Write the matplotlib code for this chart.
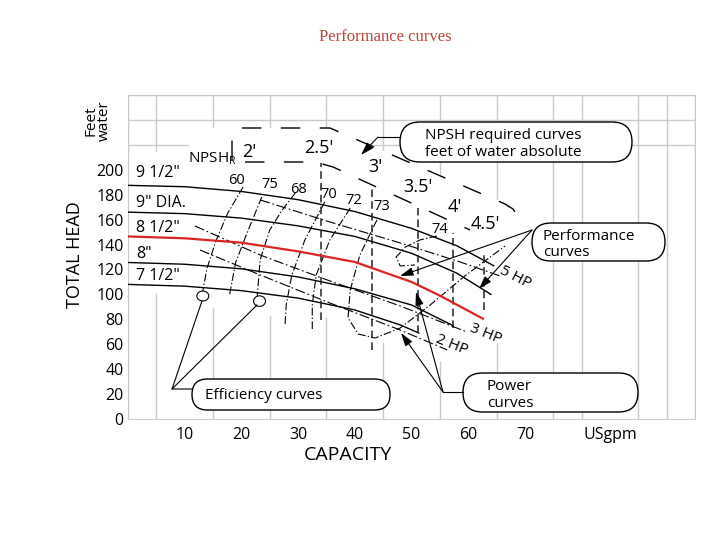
import numpy as np
import matplotlib.pyplot as plt
from matplotlib.patches import Polygon, Ellipse, FancyBboxPatch

plt.rcParams['font.family'] = ['Open Sans', 'DejaVu Sans']

" DATA "
# capacity [USgpm] vs total head [ft]
q_95 = [0, 10, 20, 30, 40, 50, 58, 64.5]
h_95 = [187.5, 186.4, 182.6, 176, 166.5, 153, 139, 123]
q_90 = [0, 10, 20, 30, 40, 50, 58, 64]
h_90 = [166, 164.8, 161.2, 155, 146.5, 133, 117, 100]
q_85 = [0, 10, 20, 30, 40, 50, 55, 62.6]
h_85 = [146.5, 145, 141.5, 134.5, 126, 110, 99, 80.5]
q_80 = [0, 10, 20, 30, 40, 50, 57.3]
h_80 = [125.6, 124.2, 120.5, 114, 104.5, 91.5, 75]
q_75 = [0, 10, 20, 30, 40, 48, 51.3]
h_75 = [108, 106.6, 103, 97, 87.5, 75.5, 69]
imp_labels = ['9 1/2"', '9" DIA.', '8 1/2"', '8"', '7 1/2"']
imp_label_h = [194.2, 170.1, 150.1, 129.2, 111.6]

# efficiency curves [%]
eff_labels = ['60', '75', '68', '70', '72', '73', '74']
eff_label_q = [19.2, 25.0, 30.0, 35.4, 39.9, 44.8, 55.0]
eff_label_h = [188.6, 185.4, 181.4, 177.4, 172.6, 167.8, 149.3]
e60_q = [20.3, 17.6, 15.5, 13.9, 13.2]
e60_h = [186.2, 165.3, 142.8, 120.4, 102.7]
e75_q = [23.6, 21.2, 19.0, 17.9]
e75_h = [178.1, 151.6, 125.9, 99.4]
e68_q = [29.5, 27.2, 25.0, 23.3, 22.8]
e68_h = [181.3, 167.7, 151.7, 127.6, 98.6]
e70_q = [34.7, 31.2, 28.9, 27.9, 27.7]
e70_h = [174.2, 143.7, 115.6, 91.5, 75.4]
e72_q = [39.2, 35.6, 33.2, 32.5, 32.5]
e72_h = [169.3, 143.7, 115.6, 91.5, 71.4]
e73_q = [43.9, 40.9, 39.2, 38.8, 40.6, 43.6, 48.0, 53.3, 59.4, 66.5]
e73_h = [159.7, 131.6, 103.5, 81.1, 68.2, 65.0, 73.0, 91.5, 114.8, 138.8]
e74_q = [54.5, 51.5, 48.9, 47.3, 48.0, 50.6]
e74_h = [146.9, 143.7, 138.0, 130.0, 122.8, 123.6]

# NPSH required [ft]
npsh_labels = ["2'", "2.5'", "3'", "3.5'", "4'", "4.5'"]
npsh_label_q = [21.3, 33.7, 43.7, 51.1, 57.7, 63.0]
npsh_label_h = [210.4, 213.6, 198.4, 182.3, 166.3, 152.6]
npsh_q = [34.0, 43.0, 51.1, 57.3, 62.8]
npsh_top = [205.5, 186.2, 169.3, 149.3, 134.0]
npsh_bot = [79.5, 55.4, 69.0, 73.0, 87.5]

# power curves [HP]
p2_q = [12.7, 23.3, 35.6, 48.0, 56.3]
p2_h = [135.6, 115.6, 93.1, 71.4, 55.4]
p3_q = [11.8, 23.3, 35.6, 48.0, 59.8]
p3_h = [154.9, 131.6, 110.8, 90.7, 69.8]
p5_q = [23.3, 35.6, 48.0, 58.6, 65.6]
p5_h = [175.8, 158.1, 141.3, 126.0, 114.8]

x_ticks = [10, 20, 30, 40, 50, 60, 70, 85]
x_ticklabels = ['10', '20', '30', '40', '50', '60', '70', 'USgpm']
y_ticks = list(range(0, 201, 20))


def to_data(x, y):
    # figure pixel -> data coords of the main axes
    return (x - 128) / 5.67, (419 - y) / 1.246


fig = plt.figure(figsize=(7.2, 5.4), dpi=100)
ax = fig.add_axes([128 / 720, 121 / 540, 567 / 720, 324 / 540])
ax.set_xlim(0, 100)
ax.set_ylim(0, 260)

ax.set_xticks(x_ticks)
ax.set_xticklabels(x_ticklabels, fontsize=11.5)
ax.set_yticks(y_ticks)
ax.set_yticklabels([str(v) for v in y_ticks], fontsize=11.5)
ax.set_xticks(np.arange(0, 101, 5), minor=True)
ax.set_yticks(np.arange(0, 261, 20), minor=True)
ax.tick_params(which='both', length=0)
ax.tick_params(axis='x', pad=6)
ax.tick_params(axis='y', pad=3)
ax.grid(which='minor', color='#c9c9c9', lw=1.0)
ax.set_axisbelow(True)
for s in ax.spines.values():
    s.set_color('#c9c9c9')

# white area behind the curves hides the grid
mask_px = [(128, 152), (188, 152), (190, 128), (330, 128), (505, 203), (522, 214), (537, 240),
           (537, 265), (518, 285), (518, 330), (500, 343), (460, 350), (440, 362), (388, 362),
           (384, 343), (345, 343), (343, 318), (250, 316), (186, 302), (150, 292), (128, 292)]
ax.add_patch(Polygon([to_data(*p) for p in mask_px], closed=True, fc='white', ec='none', zorder=1))

" CURVES "
for q, h in [(q_95, h_95), (q_90, h_90), (q_80, h_80), (q_75, h_75)]:
    ax.plot(q, h, color='black', lw=1.0, zorder=3)
ax.plot(q_85, h_85, color='#dc2423', lw=1.6, zorder=4)
for lab, hh in zip(imp_labels, imp_label_h):
    ax.text(1.4, hh, lab, fontsize=11.5, ha='left', va='baseline', zorder=5)

eff_ls = (0, (7, 2, 1.2, 2))
for q, h in [(e60_q, e60_h), (e75_q, e75_h), (e68_q, e68_h), (e70_q, e70_h),
             (e72_q, e72_h), (e73_q, e73_h), (e74_q, e74_h)]:
    ax.plot(q, h, color='black', lw=0.8, ls=eff_ls, zorder=3)
for lab, q, h in zip(eff_labels, eff_label_q, eff_label_h):
    ax.text(q, h, lab, fontsize=10.5, ha='center', va='baseline', zorder=5)
ax.add_patch(Ellipse((e60_q[-1], e60_h[-1] - 4), 2.1, 8, fc='white', ec='black', lw=0.8, zorder=4))
ax.add_patch(Ellipse((e68_q[-1] + 0.4, e68_h[-1] - 4), 2.1, 8.5, fc='white', ec='black', lw=0.8, zorder=4))

for q, t, b in zip(npsh_q, npsh_top, npsh_bot):
    ax.plot([q, q], [b, t], color='#222222', lw=1.1, ls=(0, (5, 2.7)), zorder=3)
for lab, q, h in zip(npsh_labels, npsh_label_q, npsh_label_h):
    ax.text(q, h, lab, fontsize=13, ha='center', va='baseline', zorder=5)
ax.text(*to_data(212, 162), 'NPSH$_\\mathregular{R}$', fontsize=11, ha='center', va='baseline', zorder=5)

pow_ls = (0, (9, 2.5, 1.5, 2.5))
for q, h in [(p2_q, p2_h), (p3_q, p3_h), (p5_q, p5_h)]:
    ax.plot(q, h, color='black', lw=0.8, ls=pow_ls, zorder=3)
ax.text(*to_data(515, 277), '5 HP', fontsize=11, rotation=-27, ha='center', va='center', zorder=5)
ax.text(*to_data(486, 334), '3 HP', fontsize=11, rotation=-22, ha='center', va='center', zorder=5)
ax.text(*to_data(452, 345), '2 HP', fontsize=11, rotation=-22, ha='center', va='center', zorder=5)

" CALLOUTS (figure pixels) "
ov = fig.add_axes([0, 0, 1, 1], zorder=5)
ov.set_xlim(0, 720)
ov.set_ylim(540, 0)
ov.axis('off')
ov.patch.set_alpha(0)

# NPSH band outline
band_ls = (0, (14, 14))
ov.plot([232, 232, 234, 238, 330, 505, 513, 517, 518], [160, 134, 130, 128, 128, 204, 209, 215, 222],
        color='black', lw=1.0, ls=band_ls)
ov.plot([245, 315, 333, 470], [162, 162, 167, 230], color='black', lw=1.0, ls=band_ls)


def callout(x0, y0, w, h):
    ov.add_patch(FancyBboxPatch((x0, y0), w, h, boxstyle=f'round,pad=0,rounding_size={h / 2}',
                                fc='white', ec='black', lw=1.0))


def arrow(p0, p1):
    ov.annotate('', xy=p1, xytext=p0,
                arrowprops=dict(arrowstyle='-|>,head_length=0.8,head_width=0.25', lw=0.8,
                                color='black', shrinkA=0, shrinkB=0))


callout(400, 122, 232, 40)
ov.text(425, 139, 'NPSH required curves', fontsize=11, va='baseline')
ov.text(425, 156, 'feet of water absolute', fontsize=11, va='baseline')
ov.plot([400, 378], [137, 137], color='black', lw=0.8)
arrow((378, 137), (361, 155))

callout(532, 223, 133, 38)
ov.text(543, 240, 'Performance', fontsize=11, va='baseline')
ov.text(543, 256, 'curves', fontsize=11, va='baseline')
arrow((532, 230), (400, 276))
arrow((532, 230), (479, 289))

callout(192, 379, 198, 31)
ov.text(205, 399, 'Efficiency curves', fontsize=11, va='baseline')
ov.plot([192, 172, 202], [389, 389, 301], color='black', lw=0.8)
ov.plot([172, 257], [389, 305], color='black', lw=0.8)

callout(463, 373, 175, 39)
ov.text(487, 390, 'Power', fontsize=11, va='baseline')
ov.text(487, 407, 'curves', fontsize=11, va='baseline')
ov.plot([463, 443], [392, 392], color='black', lw=0.8)
arrow((443, 392), (401, 333))
arrow((443, 392), (416, 292))

" LABELS "
fig.text(385 / 720, 1 - 37 / 540, 'Performance curves', family='Liberation Serif', fontsize=12,
         color='#b9473a', ha='center', va='center')
fig.text(75 / 720, 1 - 255 / 540, 'TOTAL HEAD', fontsize=13, rotation=90, ha='center', va='center')
fig.text(98 / 720, 1 - 121 / 540, 'Feet\nwater', fontsize=11, rotation=90, ha='center', va='center',
         linespacing=0.85)
fig.text(348 / 720, 1 - 455 / 540, 'CAPACITY', fontsize=14, ha='center', va='center')

fig.savefig('out.png', dpi=100)
